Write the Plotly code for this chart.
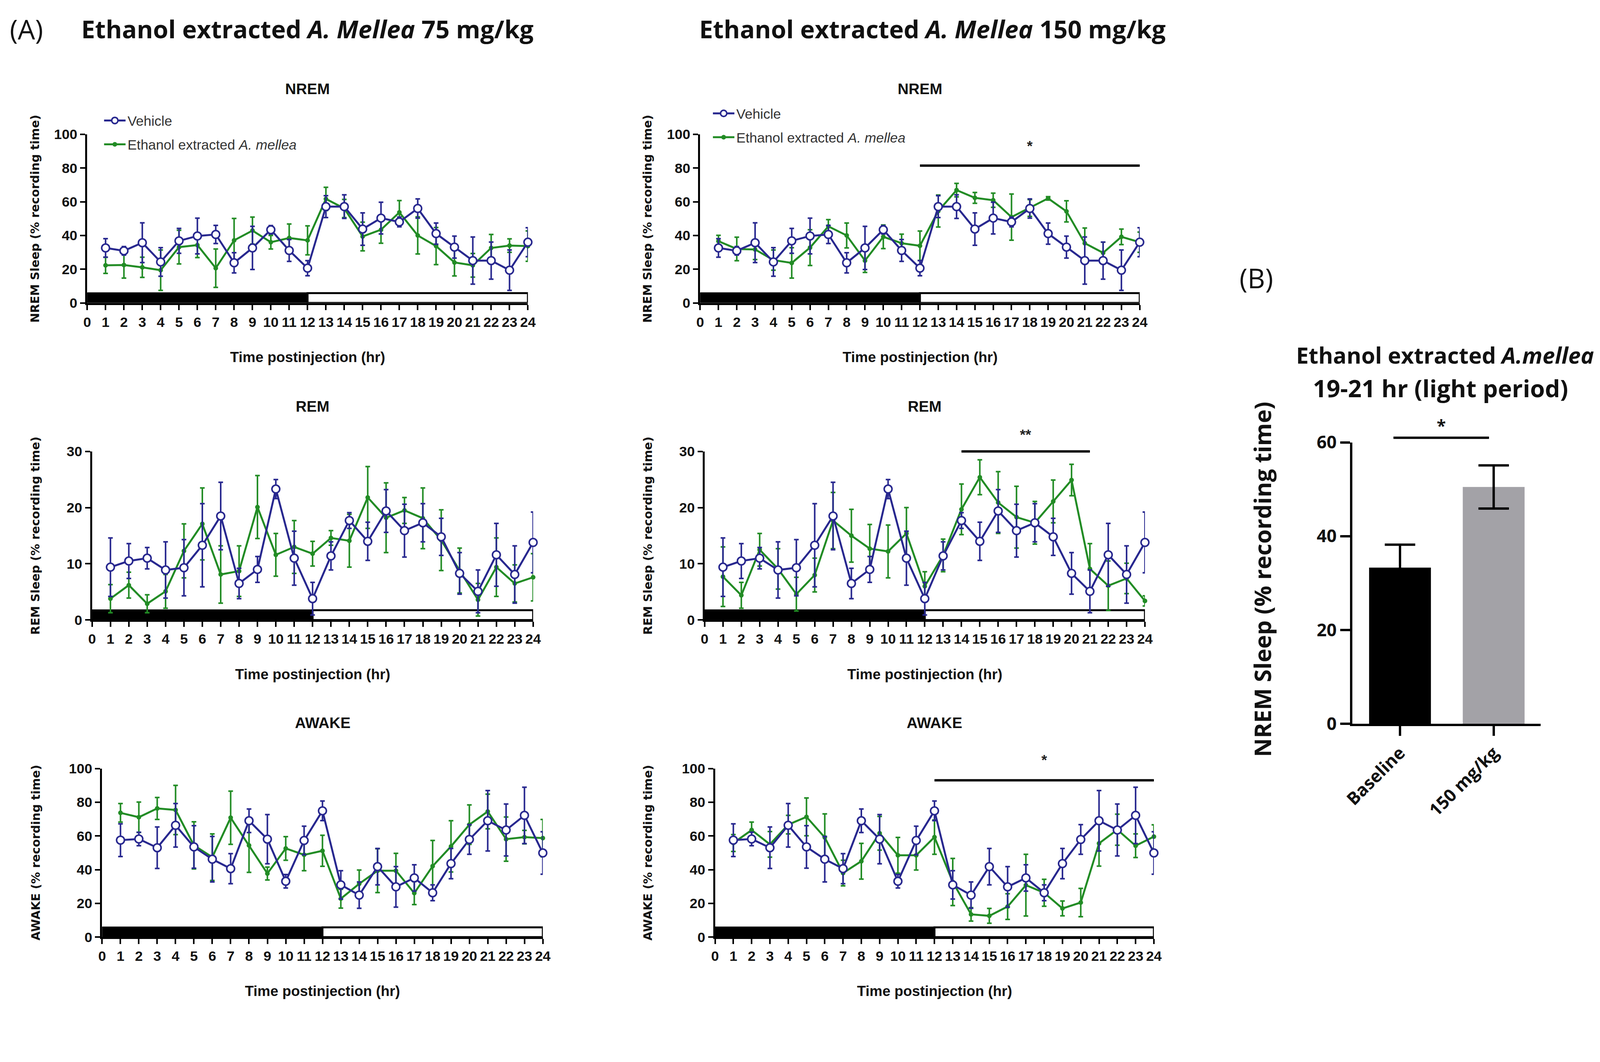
import plotly.graph_objects as go

# ---------------- data ----------------
hours = list(range(1, 25))
tick_hours = list(range(0, 25))

veh_nrem = [32.6, 30.9, 35.7, 24.3, 36.8, 39.7, 40.6, 23.8, 32.6, 43.4, 31.1, 20.6,
            57.1, 57.1, 43.8, 50.3, 48.0, 56.0, 41.1, 33.1, 25.1, 25.1, 19.4, 36.0]
veh_nrem_err = [5.5, 2.5, 11.8, 8.5, 7.4, 10.6, 5.4, 6.0, 12.8, 2.5, 6.5, 4.5,
                6.5, 7.0, 9.6, 9.4, 2.9, 5.7, 6.3, 6.5, 14.0, 11.0, 12.0, 8.6]
eth75_nrem = [22.3, 22.5, 21.1, 19.4, 33.1, 34.3, 20.6, 37.1, 42.9, 36.0, 38.5, 37.1,
              61.7, 56.0, 39.4, 43.4, 53.7, 40.0, 33.7, 24.0, 22.3, 32.6, 34.0, 33.7]
eth75_nrem_err = [4.8, 7.8, 6.0, 12.0, 10.0, 7.4, 11.4, 13.0, 8.0, 4.0, 8.3, 8.6,
                  6.9, 5.4, 8.5, 8.0, 7.0, 11.0, 11.0, 8.0, 7.0, 8.0, 4.0, 9.0]
eth150_nrem = [36.6, 32.0, 31.7, 25.4, 23.7, 32.8, 45.4, 40.0, 25.1, 39.2, 35.4, 33.9,
               54.5, 66.9, 62.3, 60.9, 50.9, 56.3, 62.0, 54.3, 35.4, 29.7, 39.2, 36.0]
eth150_nrem_err = [3.5, 7.0, 6.0, 6.0, 9.0, 10.6, 4.0, 7.4, 7.0, 7.0, 5.4, 8.7,
                   9.5, 4.0, 3.2, 4.2, 13.7, 5.0, 1.0, 6.3, 9.0, 6.3, 4.6, 6.0]

veh_rem = [9.4, 10.5, 11.0, 8.9, 9.3, 13.3, 18.5, 6.5, 9.0, 23.3, 11.0, 3.8,
           11.4, 17.7, 14.0, 19.4, 15.9, 17.3, 14.8, 8.3, 5.1, 11.6, 8.1, 13.8]
veh_rem_err = [5.2, 3.1, 1.9, 5.0, 5.0, 7.4, 6.0, 2.7, 2.3, 1.7, 4.8, 2.9,
               2.5, 1.4, 3.4, 3.8, 4.7, 3.4, 3.3, 3.7, 3.8, 5.6, 5.1, 5.4]
eth75_rem = [3.8, 6.2, 2.9, 5.1, 12.3, 17.1, 8.1, 8.7, 20.1, 11.6, 13.0, 11.8,
             14.6, 14.1, 21.8, 18.2, 19.5, 18.1, 14.2, 8.8, 3.6, 9.4, 6.5, 7.6]
eth75_rem_err = [2.5, 2.3, 1.6, 3.0, 4.8, 6.4, 5.1, 4.5, 5.6, 3.8, 4.7, 2.2,
                 1.3, 4.7, 5.5, 6.2, 2.3, 5.4, 5.4, 4.0, 2.9, 5.2, 3.3, 4.2]
eth150_rem = [7.7, 4.4, 12.5, 9.1, 4.6, 8.0, 17.7, 15.0, 12.7, 12.2, 15.4, 6.0,
              11.5, 19.7, 25.4, 20.9, 18.3, 17.3, 21.1, 24.9, 9.1, 6.1, 7.4, 3.4]
eth150_rem_err = [5.3, 2.3, 2.9, 3.6, 3.0, 3.0, 5.0, 4.7, 4.3, 4.7, 4.6, 2.6,
                  2.9, 4.5, 3.1, 5.5, 5.5, 3.8, 3.8, 2.8, 4.5, 4.4, 2.7, 0.9]

veh_awake = [57.5, 58.2, 53.0, 66.3, 53.5, 46.2, 40.6, 69.0, 58.1, 33.1, 57.3, 74.9,
             31.0, 24.9, 41.8, 29.8, 35.1, 26.3, 43.6, 57.9, 69.0, 63.5, 72.2, 49.9]
veh_awake_err = [9.7, 4.0, 12.3, 12.9, 12.6, 13.5, 8.9, 7.0, 14.6, 4.0, 8.5, 5.8,
                 8.4, 7.8, 10.8, 12.0, 7.8, 4.7, 9.0, 8.8, 17.9, 15.4, 16.7, 12.6]
eth75_awake = [73.7, 71.1, 76.3, 75.4, 54.4, 47.4, 70.8, 54.4, 37.7, 52.6, 48.8, 51.2,
               22.8, 31.6, 39.4, 39.4, 26.1, 42.1, 53.8, 66.7, 74.5, 58.1, 59.3, 58.7]
eth75_awake_err = [5.5, 9.0, 6.5, 14.6, 14.0, 13.8, 15.8, 16.0, 3.8, 7.0, 9.4, 9.2,
                   5.6, 8.2, 13.0, 10.3, 6.8, 15.2, 15.2, 11.7, 10.3, 13.1, 4.0, 11.1]
eth150_awake = [55.8, 63.5, 55.0, 66.7, 71.3, 59.1, 38.0, 45.0, 61.6, 48.5, 48.5, 59.3,
                32.7, 13.5, 12.6, 18.1, 30.8, 26.3, 17.0, 20.5, 55.6, 63.7, 54.2, 59.6]
eth150_awake_err = [5.0, 4.7, 7.6, 5.5, 11.2, 14.0, 7.6, 10.6, 10.0, 10.6, 8.7, 10.2,
                    14.0, 4.0, 4.4, 7.6, 18.3, 8.0, 4.4, 8.4, 13.5, 9.2, 7.0, 7.0]

dark_phase = [0, 12]
light_phase = [12, 24]

bar_groups = ["Baseline", "150 mg/kg"]
bar_means = [33.3, 50.5]
bar_sem = [4.9, 4.6]

# significance marks: (x_start, x_end, y_line, label, y_label)
sig_nrem150 = (12, 24, 81.4, "*", 93.0)
sig_rem150 = (14, 21, 30.0, "**", 32.9)
sig_awake150 = (12, 24, 93.0, "*", 104.8)
sig_bar = (-0.07, 0.95, 61.0, "*", 63.6)

# ---------------- layout helpers ----------------
W, H = 4290, 2719
# screen mapping compensation (measured from the rendered page)
SX, OX = 1.036, 35.8
SY, OY = 1.0235, 41.9
FS = 1.03


def px(x):
    return ((x - OX) / SX) / W


def py(y):
    return 1 - ((y - OY) / SY) / H


def fs(s):
    return round(s / FS, 1)


BLUE = "#28288f"
GREEN = "#228c25"
GRAY = "#a3a2a7"
TICKFONT = dict(family="Liberation Sans, Arial, sans-serif", size=fs(37), color="#111111", weight="bold")

panels = [
    dict(box=(232, 1414, 360, 812), ymax=100, dtick=20, title="NREM", ytitle="NREM Sleep (% recording time)",
         veh=(veh_nrem, veh_nrem_err), eth=(eth75_nrem, eth75_nrem_err), legend="legend",
         title_y=238, xtitle_y=958, ytitle_dx=140, sig=None),
    dict(box=(1876, 3055, 360, 812), ymax=100, dtick=20, title="NREM", ytitle="NREM Sleep (% recording time)",
         veh=(veh_nrem, veh_nrem_err), eth=(eth150_nrem, eth150_nrem_err), legend="legend2",
         title_y=238, xtitle_y=958, ytitle_dx=141, sig=sig_nrem150),
    dict(box=(245, 1428, 1210, 1662), ymax=30, dtick=10, title="REM", ytitle="REM Sleep (% recording time)",
         veh=(veh_rem, veh_rem_err), eth=(eth75_rem, eth75_rem_err), legend=None,
         title_y=1089, xtitle_y=1808, ytitle_dx=152, sig=None),
    dict(box=(1888, 3069, 1210, 1662), ymax=30, dtick=10, title="REM", ytitle="REM Sleep (% recording time)",
         veh=(veh_rem, veh_rem_err), eth=(eth150_rem, eth150_rem_err), legend=None,
         title_y=1089, xtitle_y=1808, ytitle_dx=152, sig=sig_rem150),
    dict(box=(272, 1454, 2060, 2512), ymax=100, dtick=20, title="AWAKE", ytitle="AWAKE (% recording time)",
         veh=(veh_awake, veh_awake_err), eth=(eth75_awake, eth75_awake_err), legend=None,
         title_y=1937, xtitle_y=2657, ytitle_dx=178, sig=None),
    dict(box=(1916, 3093, 2060, 2512), ymax=100, dtick=20, title="AWAKE", ytitle="AWAKE (% recording time)",
         veh=(veh_awake, veh_awake_err), eth=(eth150_awake, eth150_awake_err), legend=None,
         title_y=1937, xtitle_y=2657, ytitle_dx=180, sig=sig_awake150),
]

fig = go.Figure()
annotations = []
shapes = []
layout_axes = {}

for i, p in enumerate(panels, start=1):
    l, r, t, b = p["box"]
    xa = f"x{i}" if i > 1 else "x"
    ya = f"y{i}" if i > 1 else "y"
    xkey = f"xaxis{i}" if i > 1 else "xaxis"
    ykey = f"yaxis{i}" if i > 1 else "yaxis"
    show_leg = p["legend"] is not None
    leg = p["legend"] if show_leg else "legend"

    eth_y, eth_e = p["eth"]
    veh_y, veh_e = p["veh"]
    fig.add_trace(go.Scatter(
        x=hours, y=eth_y, xaxis=xa, yaxis=ya, mode="lines+markers",
        name="Ethanol extracted <i>A. mellea</i>", legend=leg, showlegend=show_leg,
        legendgroup=f"eth{i}", legendrank=2,
        line=dict(color=GREEN, width=5),
        marker=dict(symbol="circle", size=12, color=GREEN),
        error_y=dict(type="data", array=eth_e, color=GREEN, thickness=4, width=6),
        cliponaxis=False, hoverinfo="skip"))
    fig.add_trace(go.Scatter(
        x=hours, y=veh_y, xaxis=xa, yaxis=ya, mode="lines+markers",
        name="Vehicle", legend=leg, showlegend=show_leg,
        legendgroup=f"veh{i}", legendrank=1,
        line=dict(color=BLUE, width=5),
        marker=dict(symbol="circle", size=20, color="white", line=dict(color=BLUE, width=4)),
        error_y=dict(type="data", array=veh_e, color=BLUE, thickness=4, width=6),
        cliponaxis=False, hoverinfo="skip"))

    layout_axes[xkey] = dict(
        domain=[px(l), px(r)], anchor=ya, range=[0, 24], tickvals=tick_hours,
        ticktext=[str(h) for h in tick_hours], ticks="outside", ticklen=13, tickwidth=4,
        tickcolor="black", showline=True, linewidth=5, linecolor="black",
        showgrid=False, zeroline=False, tickfont=TICKFONT, fixedrange=True)
    layout_axes[ykey] = dict(
        domain=[py(b), py(t)], anchor=xa, range=[0, p["ymax"]],
        tickvals=list(range(0, p["ymax"] + 1, p["dtick"])), ticks="outside", ticklen=13, tickwidth=4,
        tickcolor="black", showline=True, linewidth=5, linecolor="black",
        showgrid=False, zeroline=False, tickfont=TICKFONT, fixedrange=True)

    band = 0.058 * p["ymax"]
    shapes.append(dict(type="rect", xref=xa, yref=ya, x0=dark_phase[0], x1=dark_phase[1], y0=0, y1=band,
                       fillcolor="black", line=dict(color="black", width=4), layer="below"))
    shapes.append(dict(type="rect", xref=xa, yref=ya, x0=light_phase[0], x1=light_phase[1], y0=0, y1=band,
                       fillcolor="white", line=dict(color="black", width=5), layer="below"))

    cx = (l + r) / 2
    annotations.append(dict(text=f"<b>{p['title']}</b>", x=px(cx), y=py(p["title_y"]), xref="paper", yref="paper",
                            showarrow=False, xanchor="center", yanchor="middle",
                            font=dict(family="Liberation Sans, Arial", size=fs(40), color="#111111")))
    annotations.append(dict(text="<b>Time postinjection (hr)</b>", x=px(cx), y=py(p["xtitle_y"]),
                            xref="paper", yref="paper", showarrow=False, xanchor="center", yanchor="middle",
                            font=dict(family="Liberation Sans, Arial", size=fs(38), color="#111111")))
    annotations.append(dict(text=f"<b>{p['ytitle']}</b>", x=px(l - p["ytitle_dx"]), y=py((t + b) / 2),
                            xref="paper", yref="paper", showarrow=False, textangle=-90,
                            xanchor="center", yanchor="middle",
                            font=dict(family="DejaVu Sans, Verdana", size=fs(31), color="#111111")))
    if p["sig"] is not None:
        x0, x1, yl, lab, ylab = p["sig"]
        X0, X1 = px(l), px(r)
        Y0, Y1 = py(b), py(t)

        def to_px(xv):
            return X0 + xv / 24 * (X1 - X0)

        def to_py(yv, ym=p["ymax"]):
            return Y0 + yv / ym * (Y1 - Y0)

        shapes.append(dict(type="line", xref="paper", yref="paper", x0=to_px(x0), x1=to_px(x1),
                           y0=to_py(yl), y1=to_py(yl), line=dict(color="black", width=6)))
        annotations.append(dict(text=f"<b>{lab}</b>", x=to_px((x0 + x1) / 2), y=to_py(ylab),
                                xref="paper", yref="paper", showarrow=False, xanchor="center", yanchor="middle",
                                font=dict(family="Liberation Sans, Arial", size=fs(38), color="#222222")))

# ---------------- panel B ----------------
fig.add_trace(go.Bar(
    x=bar_groups, y=bar_means, xaxis="x7", yaxis="y7", width=0.66,
    marker=dict(color=["black", GRAY], line=dict(width=0)),
    error_y=dict(type="data", array=bar_sem, color="black", thickness=6, width=39),
    showlegend=False, hoverinfo="skip"))

B_XR = [-0.51, 1.5]
B_YR = [0, 60]
B_BOX = (3625, 4130, 1186, 1940)
BFONT = dict(family="Open Sans, Noto Sans, sans-serif", size=fs(46), color="#111111", weight="bold")
layout_axes["xaxis7"] = dict(
    domain=[px(B_BOX[0]), px(B_BOX[1])], anchor="y7", type="category", range=B_XR,
    ticks="outside", ticklen=25, tickwidth=6, tickcolor="black", tickangle=-45,
    showline=True, linewidth=6, linecolor="black", showgrid=False, zeroline=False,
    tickfont=BFONT, fixedrange=True)
layout_axes["yaxis7"] = dict(
    domain=[py(B_BOX[3]), py(B_BOX[2])], anchor="x7", range=B_YR, tickvals=[0, 20, 40, 60],
    ticks="outside", ticklen=25, tickwidth=6, tickcolor="black",
    showline=True, linewidth=6, linecolor="black", showgrid=False, zeroline=False,
    tickfont=BFONT, fixedrange=True)


def b_px(xv):
    a0, a1 = px(B_BOX[0]), px(B_BOX[1])
    return a0 + (xv - B_XR[0]) / (B_XR[1] - B_XR[0]) * (a1 - a0)


def b_py(yv):
    a0, a1 = py(B_BOX[3]), py(B_BOX[2])
    return a0 + (yv - B_YR[0]) / (B_YR[1] - B_YR[0]) * (a1 - a0)


bx0, bx1, byl, blab, bylab = sig_bar
shapes.append(dict(type="line", xref="paper", yref="paper", x0=b_px(bx0), x1=b_px(bx1),
                   y0=b_py(byl), y1=b_py(byl), line=dict(color="black", width=6)))
annotations.append(dict(text=f"<b>{blab}</b>", x=b_px((bx0 + bx1) / 2), y=b_py(bylab), xref="paper", yref="paper",
                        showarrow=False, xanchor="center", yanchor="middle",
                        font=dict(family="Open Sans", size=fs(44), color="#111111")))
annotations.append(dict(text="<b>NREM Sleep (% recording time)</b>", x=px(3384), y=py(1553),
                        xref="paper", yref="paper", showarrow=False, textangle=-90,
                        xanchor="center", yanchor="middle",
                        font=dict(family="Open Sans, Noto Sans", size=fs(61), color="#111111")))
annotations.append(dict(text="<b>Ethanol extracted <i>A.mellea</i></b>", x=px(3874), y=py(952),
                        xref="paper", yref="paper", showarrow=False, xanchor="center", yanchor="middle",
                        font=dict(family="Open Sans, Noto Sans", size=fs(59), color="#111111")))
annotations.append(dict(text="<b>19-21 hr (light period)</b>", x=px(3862), y=py(1040),
                        xref="paper", yref="paper", showarrow=False, xanchor="center", yanchor="middle",
                        font=dict(family="Open Sans, Noto Sans", size=fs(63), color="#111111")))

# ---------------- headings ----------------
annotations.append(dict(text="(A)", x=px(22), y=py(77), xref="paper", yref="paper", showarrow=False,
                        xanchor="left", yanchor="middle",
                        font=dict(family="Open Sans, Noto Sans", size=fs(72), color="#111111")))
annotations.append(dict(text="(B)", x=px(3320), y=py(744), xref="paper", yref="paper", showarrow=False,
                        xanchor="left", yanchor="middle",
                        font=dict(family="Open Sans, Noto Sans", size=fs(72), color="#111111")))
annotations.append(dict(text="<b>Ethanol extracted <i>A. Mellea</i> 75 mg/kg</b>", x=px(823), y=py(77),
                        xref="paper", yref="paper", showarrow=False, xanchor="center", yanchor="middle",
                        font=dict(family="Open Sans, Noto Sans", size=fs(65), color="#111111")))
annotations.append(dict(text="<b>Ethanol extracted <i>A. Mellea</i> 150 mg/kg</b>", x=px(2499), y=py(77),
                        xref="paper", yref="paper", showarrow=False, xanchor="center", yanchor="middle",
                        font=dict(family="Open Sans, Noto Sans", size=fs(65), color="#111111")))

legend_common = dict(xanchor="left", yanchor="top", bgcolor="rgba(0,0,0,0)", tracegroupgap=12,
                     font=dict(family="Liberation Sans, Arial", size=fs(36.5), color="#333333"),
                     itemsizing="trace", itemwidth=55)
fig.update_layout(
    width=W, height=H, margin=dict(l=0, r=0, t=0, b=0),
    paper_bgcolor="white", plot_bgcolor="white",
    annotations=annotations, shapes=shapes,
    legend=dict(x=px(272), y=py(292), **legend_common),
    legend2=dict(x=px(1905), y=py(273), **legend_common),
    **layout_axes)

fig.write_html("out.html", config=dict(displayModeBar=False, staticPlot=True))
